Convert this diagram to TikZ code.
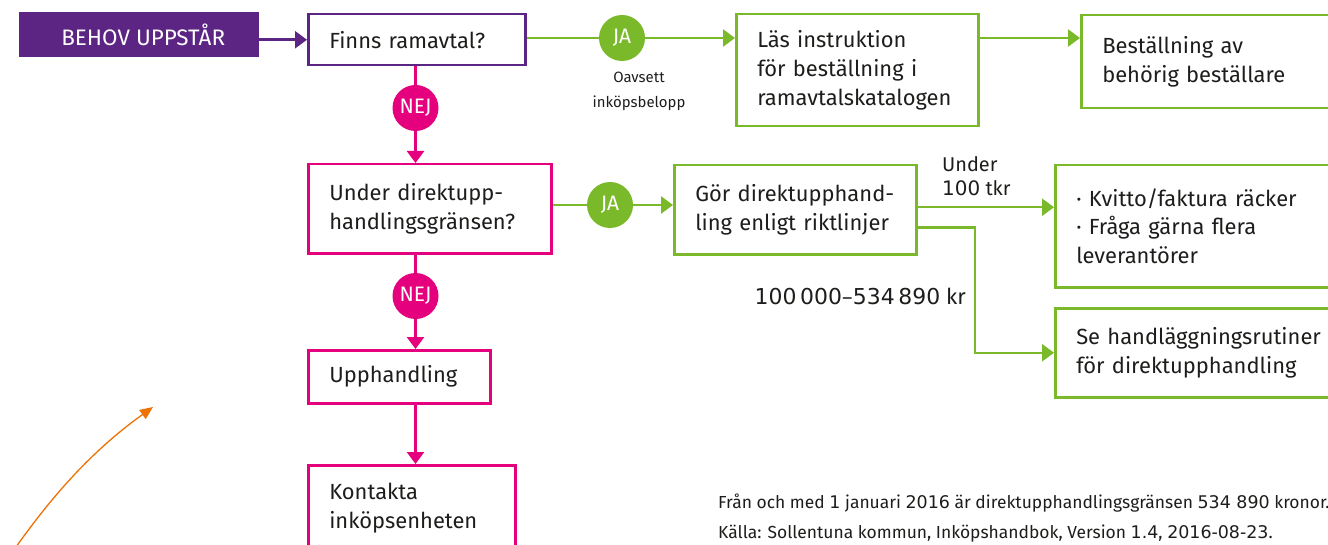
\documentclass[tikz,border=0pt]{standalone}
\usepackage{fontspec}
\setmainfont{Fira Sans}
\newfontfamily\digitfont[Scale=1.0]{DejaVu Sans}
\newcommand\dg[1]{{\digitfont #1}}
\usetikzlibrary{arrows.meta}
\definecolor{kpurple}{HTML}{5C2483}
\definecolor{kmagenta}{HTML}{E5007D}
\definecolor{kgreen}{HTML}{7AB929}
\definecolor{korange}{HTML}{EE7203}
\definecolor{ktext}{HTML}{1D1D1B}
\begin{document}
\begin{tikzpicture}[x=1bp,y=-1bp,
  every node/.style={text=ktext},
  mainfont/.style={font=\fontsize{22}{29}\selectfont},
  labelfont/.style={font=\fontsize{20}{24}\selectfont},
  smallfont/.style={font=\fontsize{15}{25}\selectfont},
  footfont/.style={font=\fontsize{17.5}{20}\selectfont},
  stepbox/.style={draw, line width=2.5bp, fill=white, anchor=north west,
    inner xsep=21bp, inner ysep=0pt, align=left, mainfont},
  purplebox/.style={stepbox, draw=kpurple},
  pinkbox/.style={stepbox, draw=kmagenta},
  greenbox/.style={stepbox, draw=kgreen},
  answer/.style={circle, minimum size=46bp, inner sep=0pt, text=white,
    font=\fontsize{21}{24}\selectfont},
  ja/.style={answer, fill=kgreen},
  nej/.style={answer, fill=kmagenta},
  conn/.style={line width=2.5bp},
  tip/.style={-{Triangle[length=12bp,width=17bp]}},
  pline/.style={conn, draw=kpurple},
  mline/.style={conn, draw=kmagenta},
  gline/.style={conn, draw=kgreen},
]
\useasboundingbox (0,0) rectangle (1328,545);
\clip (0,0) rectangle (1328,545);

% start box
\node[fill=kpurple, anchor=north west, minimum width=240bp, minimum height=45bp,
  inner sep=0pt, text=white, font=\fontsize{22.5}{24}\selectfont]
  (behov) at (19,12) {\hspace*{8bp}BEHOV UPPSTÅR};

% decision and step boxes
\node[purplebox, minimum width=217bp, minimum height=51bp, text width=175bp]
  (finns) at (307,13) {Finns ramavtal?};
\node[greenbox, minimum width=242bp, minimum height=112bp, text width=200bp]
  (las) at (735,13) {Läs instruktion\\för beställning i\\ramavtalskatalogen};
\node[greenbox, minimum width=270bp, minimum height=93bp, text width=228bp]
  (best) at (1080,14) {Beställning av\\behörig beställare};
\node[pinkbox, minimum width=243bp, minimum height=89bp, text width=201bp]
  (under) at (307,163) {Under direktupp-\\handlingsgränsen?};
\node[greenbox, minimum width=242bp, minimum height=89bp, text width=200bp]
  (gor) at (673,164) {Gör direktupphand-\\ling enligt riktlinjer};
\node[greenbox, minimum width=290bp, minimum height=122bp, text width=248bp]
  (kvitto) at (1054,164) {· Kvitto/faktura räcker\\· Fråga gärna flera\\leverantörer};
\node[greenbox, minimum width=290bp, minimum height=89bp, text width=248bp]
  (se) at (1054,307) {Se handläggningsrutiner\\för direktupphandling};
\node[pinkbox, minimum width=182bp, minimum height=53bp, text width=140bp]
  (upph) at (307,349) {Upphandling};
\node[pinkbox, minimum width=207bp, minimum height=86bp, text width=165bp]
  (kontakta) at (307,464) {Kontakta\\inköpsenheten};

% answer markers
\node[ja] (ja1) at (622,38) {JA};
\node[ja] (ja2) at (610,205) {JA};
\node[nej] (nej1) at (415.5,108) {NEJ};
\node[nej] (nej2) at (415.5,296) {NEJ};

% connectors
\draw[pline, tip] (behov.east |- finns.west) -- (finns.west);
\draw[gline] (finns.east |- ja1) -- (ja1);
\draw[gline, tip] (ja1) -- (las.west |- ja1);
\draw[gline, tip] (las.east |- ja1) -- (best.west |- ja1);
\draw[mline] (nej1 |- finns.south) -- (nej1);
\draw[mline, tip] (nej1) -- (nej1 |- under.north);
\draw[gline] (under.east |- ja2) -- (ja2);
\draw[gline, tip] (ja2) -- (gor.west |- ja2);
\draw[mline] (nej2 |- under.south) -- (nej2);
\draw[mline, tip] (nej2) -- (nej2 |- upph.north);
\draw[mline, tip] (nej2 |- upph.south) -- (nej2 |- kontakta.north);

\coordinate (g1) at ([yshift=2.5bp]gor.east);
\coordinate (g2) at ([yshift=-17.5bp]gor.east);
\coordinate (kx) at (975,0);
\draw[gline, tip] (g1) -- (kvitto.west |- g1);
\draw[gline, tip] (g2) -| (kx |- se.west) -- (se.west);

% labels
\node[smallfont, align=center, inner sep=0pt] (oav) at (639,91) {Oavsett\\inköpsbelopp};
\node[labelfont, align=left, anchor=west, inner sep=0pt] (u100) at (942,176)
  {Under\\\dg{100} tkr};
\node[mainfont, anchor=base east, inner sep=0pt] (mid) at (966,304)
  {\dg{100\,000–534\,890} kr};

% notes
\node[footfont, anchor=base west, inner sep=0pt] (note1) at (718,508)
  {Från och med \dg{1} januari \dg{2016} är direktupphandlingsgränsen \dg{534 890} kronor.};
\node[footfont, anchor=base west, inner sep=0pt] (note2) at (718,538)
  {Källa: Sollentuna kommun, Inköpshandbok, Version \dg{1.4}, \dg{2016-08-23}.};

% orange pointer
\coordinate (o1) at (16,547);
\coordinate (o2) at (153,407);
\draw[korange, line width=1.3bp, -{Triangle[length=13bp,width=11bp]}]
  (o1) .. controls (60,485) and (100,445) .. (o2);
\end{tikzpicture}
\end{document}
